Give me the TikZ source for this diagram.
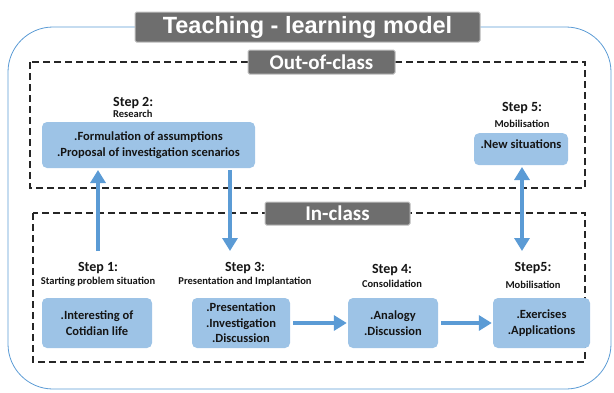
\documentclass[tikz,border=0pt]{standalone}
\usepackage{fontspec}
\setmainfont{Carlito}[BoldFont={Carlito Bold}]
\newfontfamily\titlefont{Liberation Sans}[BoldFont={Liberation Sans Bold}]
\usetikzlibrary{arrows.meta}
\definecolor{boxblue}{HTML}{9DC3E6}
\definecolor{arrblue}{HTML}{5B9BD5}
\definecolor{labgray}{HTML}{6E6E6E}
\definecolor{txt}{HTML}{151515}
\tikzset{
  stepbox/.style={fill=boxblue, draw=none, rounded corners=5pt, align=center, font=\fontsize{12.5}{15.5}\selectfont\bfseries, text=txt, inner sep=0pt},
  steptitle/.style={font=\fontsize{14}{15}\selectfont\bfseries, text=txt, inner sep=0pt},
  stepsub/.style={font=\fontsize{10.5}{11}\selectfont\bfseries, text=txt, inner sep=0pt},
  dashbox/.style={draw=black!85, line width=1.1pt, dash pattern=on 7pt off 4pt},
  graylabel/.style={fill=labgray, draw=black!25, line width=1pt, text=white, inner sep=0pt, rounded corners=1.5pt},
  bigarrow/.style={draw=arrblue, line width=4.5pt, -{Triangle[length=13pt,width=15pt]}},
  dblarrow/.style={draw=arrblue, line width=4.5pt, {Triangle[length=13pt,width=15pt]}-{Triangle[length=13pt,width=15pt]}},
}
\begin{document}
\begin{tikzpicture}[x=1pt,y=-1pt]
\useasboundingbox (0,0) rectangle (614,392);
% outer rounded frame
\draw[arrblue, line width=0.8pt, rounded corners=45pt] (8,27) rectangle (611,389);
% dashed regions
\draw[dashbox] (30,62) rectangle (585,188);
\draw[dashbox] (33,213) rectangle (585,362);
% labels
\node[graylabel, minimum width=345pt, minimum height=30pt, font=\titlefont\fontsize{23.5}{25}\selectfont\bfseries] (title) at (307.5,27) {Teaching - learning model};
\node[graylabel, minimum width=147pt, minimum height=24pt, font=\fontsize{21}{22}\selectfont\bfseries] (outlab) at (321.5,62) {Out-of-class};
\node[graylabel, minimum width=145pt, minimum height=23pt, font=\fontsize{21}{22}\selectfont\bfseries] (inlab) at (337.5,213.5) {In-class};

% Step 2
\node[steptitle, anchor=west] (s2t) at (113,103) {Step 2:};
\node[stepsub, anchor=west] (s2s) at (113,114) {Research};
\node[stepbox, minimum width=213pt, minimum height=46pt] (b2) at (148.5,145) {.Formulation of assumptions\\.Proposal of investigation scenarios};

% Step 5 top
\node[steptitle] (s5t) at (522,108) {Step 5:};
\node[stepsub] (s5s) at (522,124) {Mobilisation};
\node[stepbox, minimum width=94pt, minimum height=32pt, anchor=north] (b5t) at (521,133) {};
\node[stepbox, anchor=north] (b5tt) at (521,140) {.New situations};

% Step 1
\node[steptitle] (s1t) at (98,268) {Step 1:};
\node[stepsub] (s1s) at (98,282) {Starting problem situation};
\node[stepbox, minimum width=110pt, minimum height=50pt] (b1) at (97,323) {.Interesting of\\Cotidian life};

% Step 3
\node[steptitle] (s3t) at (245,268) {Step 3:};
\node[stepsub] (s3s) at (245,282) {Presentation and Implantation};
\node[stepbox, minimum width=98pt, minimum height=50pt] (b3) at (241,323) {.Presentation\\.Investigation\\.Discussion};

% Step 4
\node[steptitle] (s4t) at (392,270) {Step 4:};
\node[stepsub] (s4s) at (392,284) {Consolidation};
\node[stepbox, minimum width=90pt, minimum height=50pt] (b4) at (393,323) {.Analogy\\.Discussion};

% Step 5 bottom
\node[steptitle] (s5bt) at (533,268) {Step5:};
\node[stepsub] (s5bs) at (533,285) {Mobilisation};
\node[stepbox, minimum width=97pt, minimum height=50pt] (b5) at (541.5,323) {.Exercises\\.Applications};

% coordinates for arrow ends
\coordinate (a1s) at (98,251);
\coordinate (a1e) at (98,170);
\coordinate (a2s) at (230,170);
\coordinate (a2e) at (230,251);
\coordinate (a5s) at (522,167);
\coordinate (a5e) at (522,251);

\draw[bigarrow] (a1s) -- (a1e);
\draw[bigarrow] (a2s) -- (a2e);
\draw[dblarrow] (a5s) -- (a5e);
\draw[bigarrow] (b3.east) ++(3,0) coordinate (c3) (c3) -- ([xshift=-1pt]b4.west);
\draw[bigarrow] (b4.east) ++(3,0) coordinate (c4) (c4) -- ([xshift=-1pt]b5.west);
\end{tikzpicture}
\end{document}
